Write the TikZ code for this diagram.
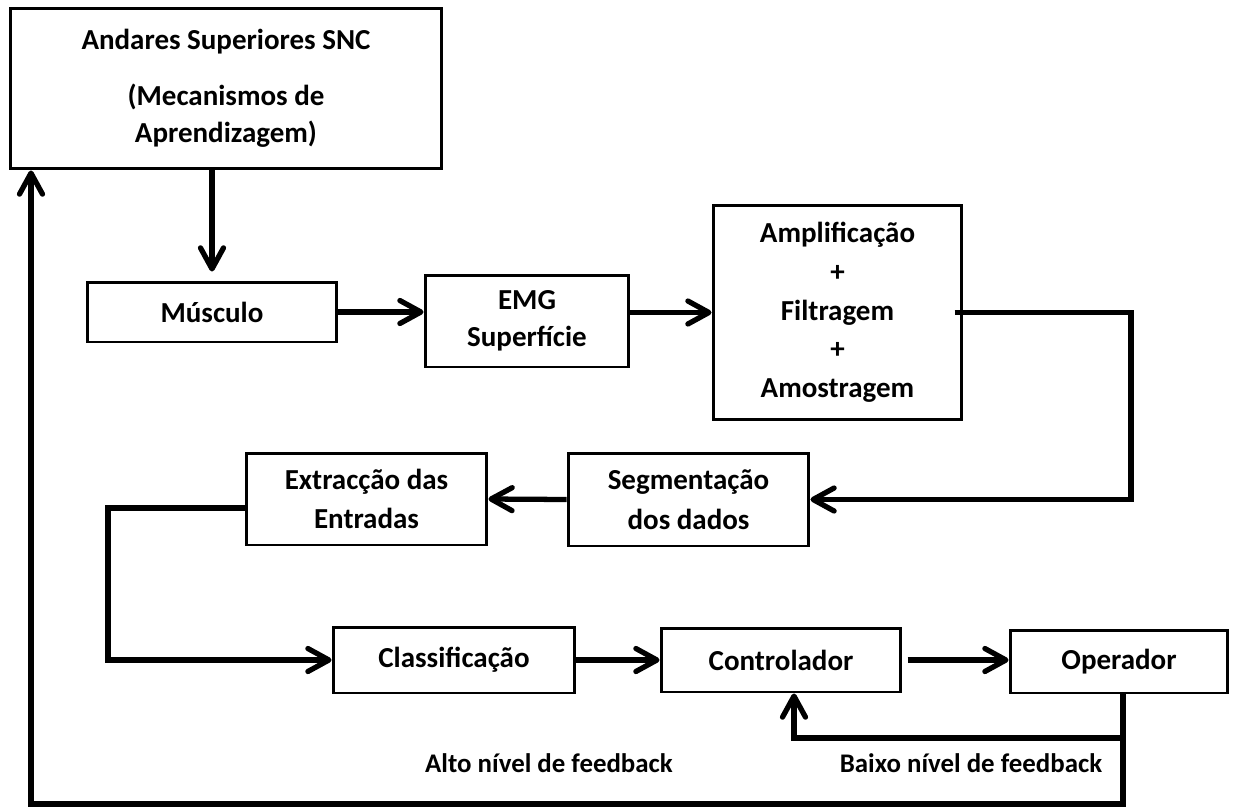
\documentclass[tikz,border=0pt]{standalone}
\usepackage{fontspec}
\setmainfont{Carlito}
\usetikzlibrary{arrows.meta}
\tikzset{
    blk/.style={draw=black,fill=white,line width=1.7pt,inner sep=0pt,
      align=center,font=\bfseries\fontsize{16.5}{21}\selectfont},
    flowarrow/.style={-{Straight Barb[length=4.2mm,width=4.6mm,round]},
      draw=black,line width=3pt,line join=miter},
    fblabel/.style={font=\bfseries\fontsize{15.3}{20}\selectfont}
}
\begin{document}
\begin{tikzpicture}[x=0.02cm,y=-0.02cm]
    \useasboundingbox (0,0) rectangle (1235,809);
    % blocos
    \node[blk,minimum width=8.64cm,minimum height=3.22cm] (snc) at (226,88.5)
        {Andares Superiores SNC\\[11pt](Mecanismos de\\Aprendizagem)};
    \node[blk,minimum width=5cm,minimum height=1.2cm] (musculo) at (212,312) {Músculo};
    \node[blk,minimum width=4.08cm,minimum height=1.84cm] (emg) at (527,321) {EMG\\Superfície};
    \node[blk,minimum width=4.98cm,minimum height=4.3cm] (ampl) at (837.5,312.5)
        {Amplificação\\[1pt]+\\[1pt]Filtragem\\[1pt]+\\[1pt]Amostragem};
    \node[blk,minimum width=4.82cm,minimum height=1.86cm] (segm) at (688.5,499.5)
        {Segmentação\\[2pt]dos dados};
    \node[blk,minimum width=4.82cm,minimum height=1.84cm] (extr) at (366.5,499)
        {Extracção das\\[1pt]Entradas};
    \node[blk,minimum width=4.84cm,minimum height=1.32cm] (classif) at (454,660) {Classificação};
    \node[blk,minimum width=4.8cm,minimum height=1.28cm] (ctrl) at (781,660) {Controlador};
    \node[blk,minimum width=4.36cm,minimum height=1.26cm] (oper) at (1119,661.5) {Operador};
    \node[fblabel] (alto) at (549,763) {Alto nível de feedback};
    \node[fblabel] (baixo) at (971,763) {Baixo nível de feedback};
    % pontos de viragem
    \coordinate (ampout) at (1131,312.5);
    \coordinate (lturn) at (108,508);
    \coordinate (botR) at (1123,804);
    \coordinate (botL) at (31,804);
    \coordinate (fbk) at (1123,738);
    \coordinate (fbkin) at (794,738);
    % ligacoes
    \draw[flowarrow,shorten >=1.8mm] (snc.south -| musculo.north) -- (musculo.north);
    \draw[flowarrow] (musculo.east) -- (musculo.east -| emg.west);
    \draw[flowarrow] (emg.east |- ampl.west) -- (ampl.west);
    \draw[flowarrow] ([xshift=-5pt]ampl.east) -- (ampout) |- (segm.east);
    \draw[flowarrow] (segm.west) -- (extr.east);
    \draw[flowarrow] (extr.west |- lturn) -- (lturn) |- (classif.west);
    \draw[flowarrow] (classif.east) -- (ctrl.west);
    \draw[flowarrow] ([xshift=3pt]ctrl.east) -- (oper.west |- ctrl.east);
    \draw[flowarrow] (oper.south -| botR) -- (botR) -- (botL) -- (botL |- snc.south);
    \draw[flowarrow] (fbk) -- (fbkin) -- (fbkin |- ctrl.south);
\end{tikzpicture}
\end{document}
